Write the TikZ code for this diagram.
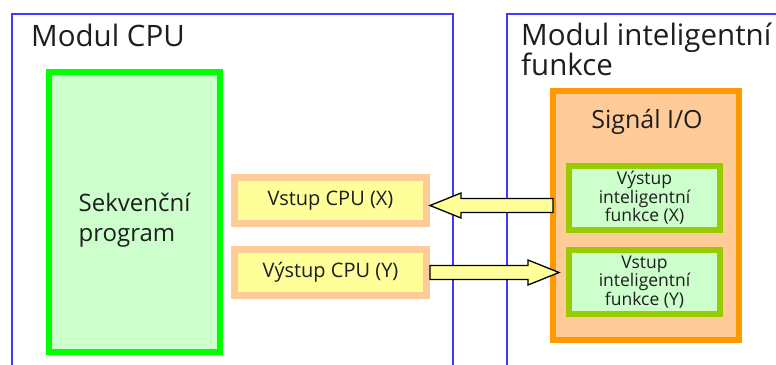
\documentclass[tikz,border=0pt]{standalone}
\usepackage{fontspec}
\setmainfont{Open Sans}
\usetikzlibrary{calc,positioning}
\definecolor{PlcBlue}{HTML}{3C3CFF}
\definecolor{PlcLime}{HTML}{00FF00}
\definecolor{PlcMint}{HTML}{CCFFCC}
\definecolor{PlcOlive}{HTML}{99CC00}
\definecolor{PlcOrange}{HTML}{FF9900}
\definecolor{PlcPeach}{HTML}{FFCC99}
\definecolor{PlcYellow}{HTML}{FFFF99}
\definecolor{PlcText}{HTML}{1E1E1E}

\begin{document}
\begin{tikzpicture}[
  x=1pt,y=-1pt,text=PlcText,
  frame/.style={draw=PlcBlue,line width=1.6pt},
  title/.style={font=\fontsize{29.5}{30}\selectfont,anchor=base west,
    align=left,inner sep=0pt},
  program/.style={draw=PlcLime,fill=PlcMint,line width=6pt,
    minimum width=171pt,minimum height=280pt},
  cpuio/.style={draw=PlcPeach,fill=PlcYellow,line width=7pt,
    minimum width=192pt,minimum height=46pt,
    font=\fontsize{20}{22}\selectfont},
  signal/.style={draw=PlcOrange,fill=PlcPeach,line width=6pt,
    minimum width=186pt,minimum height=249pt},
  intel/.style={draw=PlcOlive,fill=PlcMint,line width=6pt,
    minimum width=151pt,minimum height=64pt,align=center,
    font=\fontsize{17.5}{18.5}\selectfont},
  fat/.style={draw=black,fill=PlcYellow,line width=1.3pt,line join=miter,
    to path={let \p1=(\tikztostart),\p2=(\tikztotarget),
      \n1={sign(\x2-\x1)} in
      (\x1,{\y1+7pt}) -- ({\x2-(\n1)*31pt},{\y1+7pt})
      -- ({\x2-(\n1)*31pt},{\y1+12.5pt}) -- (\x2,\y1)
      -- ({\x2-(\n1)*31pt},{\y1-12.5pt}) -- ({\x2-(\n1)*31pt},{\y1-7pt})
      -- (\x1,{\y1-7pt}) -- cycle}}
]
\useasboundingbox (0,0) rectangle (776,364);

% two module frames, open at the bottom
\draw[frame] (12,370) -- (12,14) -- (453,14) -- (453,370);
\draw[frame] (507,370) -- (507,14) -- (790,14);
\node[title] (cputitle) at (31,46) {Modul CPU};
\node[title] (inttitle) at (521,75) {Modul inteligentní\\funkce};

\node[program] (seq) at (134.5,212) {};
\node[font=\fontsize{24}{30}\selectfont,align=left] (seqlabel)
  at ([yshift=-8pt]seq.center) {Sekvenční\\program};

\node[cpuio] (cpux) at (330.5,200.5) {Vstup CPU (X)};
\node[cpuio] (cpuy) at (330.5,272.5) {Výstup CPU (Y)};

\node[signal] (sigio) at (646,215.5) {};
\node[font=\fontsize{25}{26}\selectfont,anchor=base] (sigtitle)
  at (647,128) {Signál I/O};
\node[intel] (intx) at (644.5,198) {Výstup\\inteligentní\\funkce (X)};
\node[intel] (inty) at (644.5,282) {Vstup\\inteligentní\\funkce (Y)};

\draw[fat] ([xshift=3pt,yshift=-5pt]sigio.west |- cpux.east) to (cpux.east);
\draw[fat] (cpuy.east) to ([xshift=9pt]sigio.west |- cpuy.east);

\end{tikzpicture}
\end{document}
